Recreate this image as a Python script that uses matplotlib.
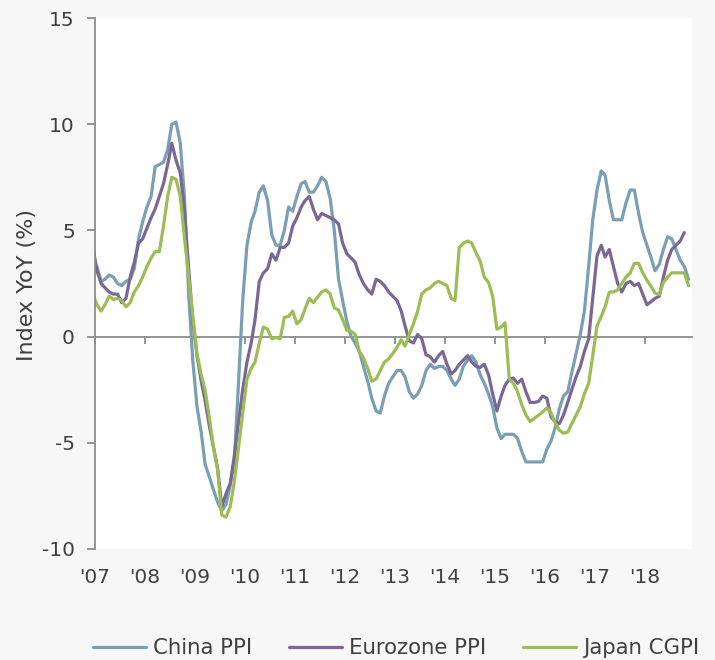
import matplotlib
matplotlib.use('Agg')
import matplotlib.pyplot as plt
import matplotlib.dates as mdates
import pandas as pd

plt.rcParams['font.family'] = ['DejaVu Sans']
plt.rcParams['axes.unicode_minus'] = False

# ---------------- data (monthly, Dec 2006 onward) ----------------
series_names = ['China PPI', 'Eurozone PPI', 'Japan CGPI']
start_month = '2006-12'

china_ppi = [
    3.1,
    3.3, 2.6, 2.7, 2.9, 2.8, 2.5, 2.4, 2.6, 2.7, 3.2, 4.6, 5.4,
    6.1, 6.6, 8.0, 8.1, 8.2, 8.8, 10.0, 10.1, 9.1, 6.6, 2.0, -1.1,
    -3.3, -4.5, -6.0, -6.6, -7.2, -7.8, -8.2, -7.9, -7.0, -5.8, -2.1, 1.7,
    4.3, 5.4, 5.9, 6.8, 7.1, 6.4, 4.8, 4.3, 4.3, 5.0, 6.1, 5.9,
    6.6, 7.2, 7.3, 6.8, 6.8, 7.1, 7.5, 7.3, 6.5, 5.0, 2.7, 1.7,
    0.7, 0.0, -0.3, -0.7, -1.4, -2.1, -2.9, -3.5, -3.6, -2.8, -2.2, -1.9,
    -1.6, -1.6, -1.9, -2.6, -2.9, -2.7, -2.3, -1.6, -1.3, -1.5, -1.4, -1.4,
    -1.6, -2.0, -2.3, -2.0, -1.4, -1.1, -0.9, -1.2, -1.8, -2.2, -2.7, -3.3,
    -4.3, -4.8, -4.6, -4.6, -4.6, -4.8, -5.4, -5.9, -5.9, -5.9, -5.9, -5.9,
    -5.3, -4.9, -4.3, -3.4, -2.8, -2.6, -1.7, -0.8, 0.1, 1.2, 3.3, 5.5,
    6.9, 7.8, 7.6, 6.4, 5.5, 5.5, 5.5, 6.3, 6.9, 6.9, 5.8, 4.9,
    4.3, 3.7, 3.1, 3.4, 4.1, 4.7, 4.6, 4.1, 3.6, 3.3, 2.7,
]

eurozone_ppi = [
    4.3,
    3.1, 2.5, 2.3, 2.1, 2.0, 2.0, 1.6, 1.8, 2.8, 3.5, 4.4, 4.6,
    5.1, 5.6, 6.0, 6.6, 7.2, 8.1, 9.1, 8.3, 7.7, 6.0, 3.2, 0.8,
    -0.9, -2.1, -3.0, -4.2, -5.2, -6.2, -8.0, -7.4, -6.9, -5.6, -4.0, -2.5,
    -1.2, -0.3, 0.8, 2.6, 3.0, 3.2, 3.9, 3.6, 4.2, 4.2, 4.4, 5.2,
    5.6, 6.1, 6.4, 6.6, 6.0, 5.5, 5.8, 5.7, 5.6, 5.5, 5.3, 4.4,
    3.9, 3.7, 3.5, 2.9, 2.5, 2.2, 2.0, 2.7, 2.6, 2.4, 2.1, 1.9,
    1.7, 1.2, 0.5, -0.2, -0.3, 0.1, -0.1, -0.85, -0.95, -1.2, -0.9, -0.7,
    -1.3, -1.75, -1.6, -1.3, -1.1, -0.9, -1.2, -1.4, -1.45, -1.3, -1.8, -2.7,
    -3.5, -2.8, -2.3, -2.0, -1.95, -2.2, -2.0, -2.6, -3.1, -3.1, -3.05, -2.8,
    -2.9, -3.8, -4.0, -4.1, -3.7, -3.1, -2.5, -1.9, -1.4, -0.7, -0.1, 1.8,
    3.8, 4.3, 3.75, 4.1, 3.3, 2.5, 2.1, 2.5, 2.6, 2.4, 2.5, 2.0,
    1.5, 1.65, 1.8, 1.9, 2.8, 3.6, 4.1, 4.3, 4.5, 4.9,
]

japan_cgpi = [
    2.0,
    1.5, 1.2, 1.5, 1.9, 1.75, 1.8, 1.7, 1.4, 1.6, 2.1, 2.4, 2.8,
    3.3, 3.7, 4.0, 4.0, 5.2, 6.6, 7.5, 7.4, 6.6, 4.7, 2.8, 1.0,
    -0.8, -1.8, -2.5, -3.8, -5.2, -6.3, -8.4, -8.5, -8.0, -6.8, -5.2, -3.6,
    -2.0, -1.5, -1.2, -0.3, 0.45, 0.35, -0.1, -0.05, -0.1, 0.9, 0.95, 1.2,
    0.6, 0.8, 1.3, 1.8, 1.6, 1.85, 2.1, 2.2, 2.0, 1.35, 1.25, 0.8,
    0.3, 0.25, 0.1, -0.7, -1.0, -1.5, -2.1, -2.0, -1.6, -1.2, -1.05, -0.8,
    -0.5, -0.15, -0.45, 0.1, 0.6, 1.2, 2.0, 2.2, 2.3, 2.5, 2.6, 2.5,
    2.4, 1.8, 1.7, 4.2, 4.4, 4.5, 4.4, 3.95, 3.55, 2.8, 2.55, 1.9,
    0.35, 0.45, 0.65, -2.0, -2.2, -2.6, -3.2, -3.7, -4.0, -3.85, -3.7, -3.55,
    -3.35, -3.6, -4.05, -4.4, -4.55, -4.5, -4.1, -3.7, -3.3, -2.7, -2.2, -0.9,
    0.5, 0.95, 1.4, 2.1, 2.1, 2.2, 2.5, 2.8, 3.0, 3.45, 3.45, 3.0,
    2.65, 2.35, 2.05, 1.98, 2.55, 2.8, 3.0, 3.0, 3.0, 3.0, 2.4,
]

year_ticks = list(range(2007, 2019))
x_tick_labels = ["'%02d" % (y % 100) for y in year_ticks]
y_ticks = [-10, -5, 0, 5, 10, 15]

colors = ['#7a9eb4', '#7b6795', '#9bbd54']
text_color = '#404040'
axis_color = '#8c8c8c'


def month_positions(n):
    d = pd.date_range(start_month, periods=n, freq='MS') + pd.Timedelta(days=14)
    return mdates.date2num(d.to_pydatetime())


fig = plt.figure(figsize=(7.15, 6.6), dpi=100, facecolor='#f7f7f7')
ax = fig.add_axes([95 / 715, 1 - 549 / 660, (692 - 95) / 715, (549 - 18) / 660])
ax.set_facecolor('white')

for vals, name, col in zip([china_ppi, eurozone_ppi, japan_cgpi], series_names, colors):
    ax.plot(month_positions(len(vals)), vals, color=col, lw=2.3, label=name,
            solid_joinstyle='round', solid_capstyle='round')

x0 = mdates.date2num(pd.Timestamp('2007-01-01').to_pydatetime())
x1 = mdates.date2num(pd.Timestamp('2018-12-10').to_pydatetime())
ax.set_xlim(x0, x1)
ax.set_ylim(-10, 15)

for s in ['top', 'right']:
    ax.spines[s].set_visible(False)
ax.spines['bottom'].set_position(('data', 0))
for s in ['bottom', 'left']:
    ax.spines[s].set_color(axis_color)
    ax.spines[s].set_linewidth(1.3)
ax.spines['bottom'].set_zorder(0.5)

tick_pos = [mdates.date2num(pd.Timestamp('%d-01-01' % y).to_pydatetime()) for y in year_ticks]
ax.set_xticks(tick_pos)
ax.tick_params(axis='x', direction='out', length=5, width=1.3, color=axis_color,
               labelbottom=False)
ax.set_yticks(y_ticks)
ax.set_yticklabels([str(v) for v in y_ticks])
ax.tick_params(axis='y', direction='out', length=5.5, width=1.3, color=axis_color,
               labelsize=14.5, labelcolor=text_color, pad=9)

sec = ax.secondary_xaxis('bottom')
sec.set_xticks(tick_pos)
sec.set_xticklabels(x_tick_labels)
sec.tick_params(length=0, pad=14, labelsize=14.5, labelcolor=text_color)
sec.spines['bottom'].set_visible(False)

ax.set_ylabel('Index YoY (%)', fontsize=16, color=text_color)
ax.yaxis.set_label_coords((37 - 95) / 597, (549 - 285) / 531)

fig.legend(loc='center', bbox_to_anchor=(396 / 715, 1 - 648 / 660), ncol=3, frameon=False,
           fontsize=15.3, handlelength=2.5, handletextpad=0.3, columnspacing=1.75,
           labelcolor=text_color)

fig.savefig('out.png', dpi=100, facecolor=fig.get_facecolor())
